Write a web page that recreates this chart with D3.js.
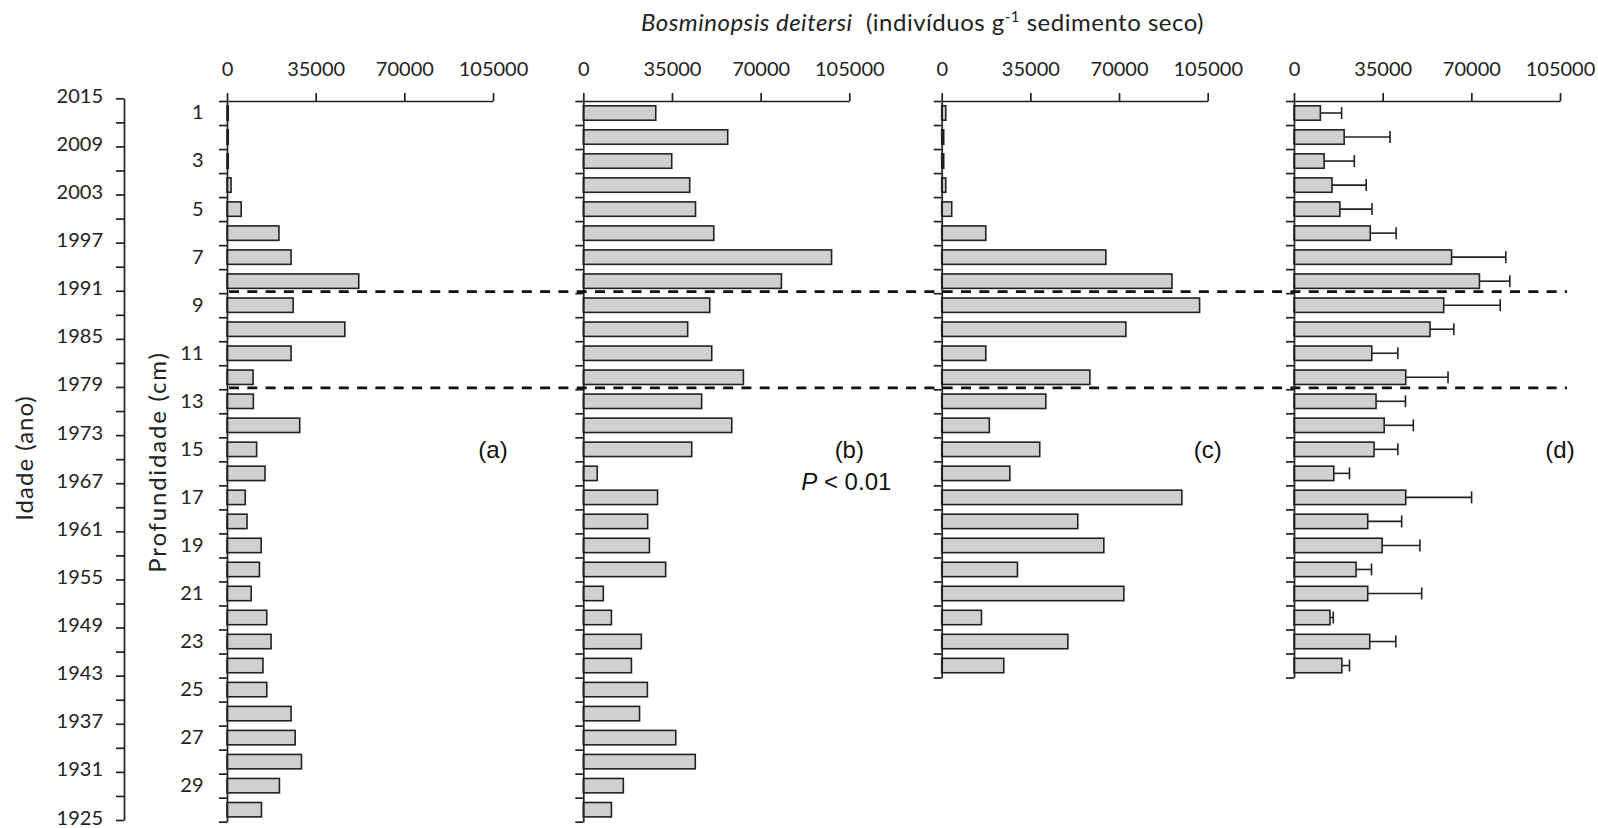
<!DOCTYPE html>
<html>
<head>
<meta charset="utf-8">
<script src="https://cdn.jsdelivr.net/npm/d3@7"></script>
<style>
  body { margin: 0; background: #fff; }
  svg { display: block; }
  .pre { white-space: pre; }
</style>
</head>
<body>
<svg id="chart" width="1598" height="828"></svg>
<script>
// Sediment slices (cm)
const depths = d3.range(1, 31);
const depthLabels = [1, 3, 5, 7, 9, 11, 13, 15, 17, 19, 21, 23, 25, 27, 29];

// Estimated age of the core (years), labelled every 6 years
const ageTicks = [2015, 2012, 2009, 2006, 2003, 2000, 1997, 1994, 1991, 1988, 1985, 1982, 1979, 1976, 1973,
                  1970, 1967, 1964, 1961, 1958, 1955, 1952, 1949, 1946, 1943, 1940, 1937, 1934, 1931, 1928, 1925];
const ageLabels = [2015, 2009, 2003, 1997, 1991, 1985, 1979, 1973, 1967, 1961, 1955, 1949, 1943, 1937, 1931, 1925];

// Bosminopsis deitersi, individuals per g of dry sediment
const valueTicks = [0, 35000, 70000, 105000];
const coreA = [500, 500, 500, 1600, 5600, 20500, 25300, 52000, 26100, 46500, 25300, 10300, 10400, 28700, 11700,
               15000, 7200, 7900, 13500, 12800, 9550, 15700, 17400, 14200, 15700, 25300, 26900, 29400, 20700, 13600];
const coreB = [28600, 57000, 34900, 42000, 44300, 51500, 98000, 78200, 49900, 41200, 50700, 63200, 46700, 58600, 42800,
               5500, 29300, 25400, 26100, 32500, 7900, 11100, 22900, 19000, 25300, 22200, 36500, 44200, 15800, 11100];
const coreC = [1600, 800, 800, 1600, 3950, 17400, 64800, 90900, 101800, 72700, 17400, 58500, 41100, 18800, 38700,
               26900, 94800, 53700, 64000, 29900, 71900, 15700, 49800, 24500];
// Mean of the cores and its deviation
const meanD = [10400, 19800, 11900, 15000, 18100, 30100, 62200, 73200, 59100, 53700, 30700, 44100, 32400, 35600, 31600,
               15700, 44100, 29100, 34800, 24500, 29100, 14200, 29900, 18900];
const devD  = [8400, 18100, 11900, 13500, 12700, 10200, 21400, 12000, 22300, 9400, 10300, 16700, 11600, 11500, 9400,
               6200, 26000, 13400, 14900, 6100, 21300, 1300, 10300, 3000];

const panelLabels = ["(a)", "(b)", "(c)", "(d)"];
const boundaryDepths = [8, 12];

const INK = "#222";
const FILL = "#d1d0d1";
const calibri = "Lato, 'Open Sans', sans-serif";
const arial = "'Liberation Sans', Arial, sans-serif";

const svg = d3.select("#chart");

const axisTop = 101, depthBottom = 821.7;
const binStep = (depthBottom - axisTop) / 30;

const panels = [
  { x0: 227,   values: coreA, label: panelLabels[0] },
  { x0: 583.3, values: coreB, label: panelLabels[1], note: true },
  { x0: 941.7, values: coreC, label: panelLabels[2] },
  { x0: 1294,  values: meanD, label: panelLabels[3], err: devD }
];
const panelWidth = 266;

function styleAxis(g, size) {
  g.selectAll("path.domain").attr("stroke", INK).attr("stroke-width", 1.7);
  g.selectAll(".tick line").attr("stroke", INK).attr("stroke-width", 1.7);
  g.selectAll(".tick text").attr("fill", INK).attr("font-family", calibri).attr("font-size", size);
}

panels.forEach((p, i) => {
  const n = p.values.length;
  const cats = depths.slice(0, n);
  const yLin = d3.scaleLinear().domain([0, n]).range([axisTop, axisTop + n * binStep]);
  const yBand = d3.scaleBand().domain(cats).range([axisTop, axisTop + n * binStep])
    .paddingInner(0.4).paddingOuter(0.2);
  const x = d3.scaleLinear().domain([0, 105000]).range([p.x0, p.x0 + panelWidth]);

  const g = svg.append("g");

  // bars
  g.selectAll("rect.bar").data(p.values).join("rect")
    .attr("class", "bar")
    .attr("x", x(0))
    .attr("y", (d, k) => yBand(cats[k]))
    .attr("width", d => x(d) - x(0))
    .attr("height", yBand.bandwidth())
    .attr("fill", FILL)
    .attr("stroke", INK)
    .attr("stroke-width", 1.6);

  // deviation whiskers
  if (p.err) {
    const eg = g.append("g").attr("stroke", INK).attr("stroke-width", 1.6);
    p.values.forEach((v, k) => {
      const cy = yBand(cats[k]) + yBand.bandwidth() / 2;
      eg.append("line").attr("x1", x(v)).attr("x2", x(v + p.err[k])).attr("y1", cy).attr("y2", cy);
      eg.append("line").attr("x1", x(v + p.err[k])).attr("x2", x(v + p.err[k]))
        .attr("y1", cy - 6).attr("y2", cy + 6);
    });
  }

  // depth axis (ticks at slice boundaries)
  const dAxis = svg.append("g").attr("transform", `translate(${x(0)},0)`)
    .call(d3.axisLeft(yLin).tickValues(d3.range(0, n + 1)).tickSize(8).tickSizeOuter(0).tickFormat(""));
  styleAxis(dAxis, 20);

  // value axis on top
  const vAxis = svg.append("g").attr("transform", `translate(0,${axisTop})`)
    .call(d3.axisTop(x).tickValues(valueTicks).tickSize(8).tickSizeOuter(0).tickPadding(17).tickFormat(d3.format("d")));
  styleAxis(vAxis, 20);

  // depth labels on the first panel
  if (i === 0) {
    const lAxis = svg.append("g").attr("transform", `translate(${x(0)},0)`)
      .call(d3.axisLeft(yBand).tickValues(depthLabels).tickSize(0).tickPadding(23.5));
    lAxis.select("path.domain").remove();
    styleAxis(lAxis, 20);
  }

  // panel letter
  svg.append("text")
    .attr("x", x(105000)).attr("y", 458)
    .attr("text-anchor", "middle")
    .attr("font-family", arial).attr("font-size", 24).attr("fill", "#111")
    .text(p.label);

  if (p.note) {
    const t = svg.append("text")
      .attr("x", x(105000) - 3).attr("y", 490)
      .attr("text-anchor", "middle")
      .attr("font-family", arial).attr("font-size", 24).attr("fill", "#111")
      .attr("class", "pre");
    t.append("tspan").attr("font-style", "italic").text("P");
    t.append("tspan").text(" < 0.01");
  }
});

// age axis
const age = d3.scaleLinear().domain([2015, 1925]).range([98.3, 820]);
const aAxis = svg.append("g").attr("transform", "translate(124,0)")
  .call(d3.axisLeft(age).tickValues(ageTicks).tickSize(8).tickSizeOuter(0).tickPadding(13)
    .tickFormat(d => ageLabels.includes(d) ? String(d) : ""));
styleAxis(aAxis, 20);
aAxis.selectAll(".tick text").attr("dy", "0.2em");

// boundary lines between sediment phases
const yDepth = d3.scaleLinear().domain([0, 30]).range([axisTop, depthBottom]);
svg.append("g").selectAll("line").data(boundaryDepths).join("line")
  .attr("x1", 229).attr("x2", 1567)
  .attr("y1", d => yDepth(d) - 1.5).attr("y2", d => yDepth(d) - 1.5)
  .attr("stroke", "#111").attr("stroke-width", 2.8)
  .attr("stroke-dasharray", "10 8.3");

// titles
const title = svg.append("text")
  .attr("x", 641).attr("y", 31)
  .attr("font-family", calibri).attr("font-size", 24).attr("fill", INK)
  .attr("letter-spacing", 0.5)
  .attr("class", "pre");
title.append("tspan").attr("font-style", "italic").text("Bosminopsis deitersi");
title.append("tspan").text("  (indivíduos g");
title.append("tspan").attr("dy", -9).attr("font-size", 15).text("-1");
title.append("tspan").attr("dy", 9).text(" sedimento seco)");

svg.append("text")
  .attr("transform", "translate(33,458) rotate(-90)")
  .attr("text-anchor", "middle")
  .attr("font-family", calibri).attr("font-size", 24).attr("fill", INK)
  .attr("letter-spacing", 1)
  .text("Idade (ano)");

svg.append("text")
  .attr("transform", "translate(166,462) rotate(-90)")
  .attr("text-anchor", "middle")
  .attr("font-family", calibri).attr("font-size", 24).attr("fill", INK)
  .attr("letter-spacing", 1.8)
  .text("Profundidade (cm)");
</script>
</body>
</html>
